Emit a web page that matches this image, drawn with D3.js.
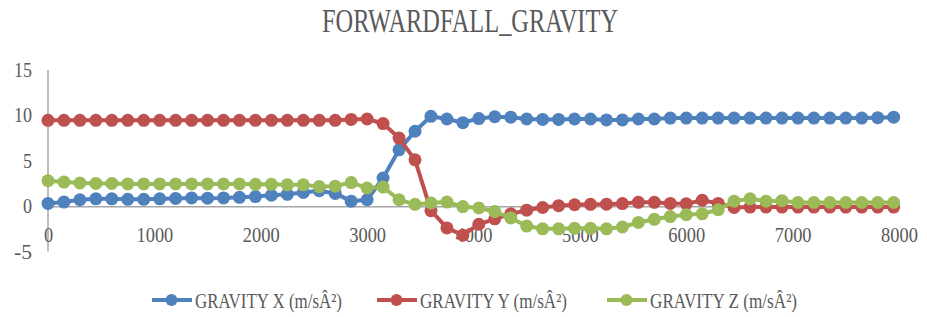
<!DOCTYPE html>
<html>
<head>
<meta charset="utf-8">
<script src="https://cdn.jsdelivr.net/npm/d3@7"></script>
<style>
  body { margin: 0; background: #fff; }
  text { font-family: "Liberation Serif", "DejaVu Serif", serif; fill: #595959; }
</style>
</head>
<body>
<script>
var title = "FORWARDFALL_GRAVITY";

var time_ms = [0, 150, 300, 450, 600, 750, 900, 1050, 1200, 1350,
	1500, 1650, 1800, 1950, 2100, 2250, 2400, 2550, 2700, 2850,
	3000, 3150, 3300, 3450, 3600, 3750, 3900, 4050, 4200, 4350,
	4500, 4650, 4800, 4950, 5100, 5250, 5400, 5550, 5700, 5850,
	6000, 6150, 6300, 6450, 6600, 6750, 6900, 7050, 7200, 7350,
	7500, 7650, 7800, 7950];

var gravity_x = [0.3, 0.45, 0.7, 0.8, 0.8, 0.75, 0.75, 0.8, 0.85, 0.9,
	0.88, 0.9, 0.97, 1.05, 1.2, 1.3, 1.5, 1.7, 1.4, 0.55,
	0.7, 3.1, 6.2, 8.25, 9.9, 9.6, 9.2, 9.65, 9.85, 9.8,
	9.6, 9.55, 9.55, 9.6, 9.6, 9.5, 9.5, 9.6, 9.6, 9.7,
	9.7, 9.7, 9.7, 9.7, 9.7, 9.7, 9.7, 9.7, 9.7, 9.7,
	9.7, 9.7, 9.75, 9.8];

var gravity_y = [9.45, 9.45, 9.45, 9.45, 9.45, 9.45, 9.45, 9.45, 9.45, 9.45,
	9.45, 9.45, 9.45, 9.45, 9.45, 9.45, 9.45, 9.45, 9.45, 9.55,
	9.6, 9.1, 7.5, 5.1, -0.5, -2.4, -3.2, -2.0, -1.4, -0.85,
	-0.45, -0.15, 0.05, 0.15, 0.2, 0.22, 0.28, 0.42, 0.42, 0.3,
	0.25, 0.65, 0.3, -0.15, -0.1, -0.1, -0.1, -0.1, -0.1, -0.1,
	-0.1, -0.1, -0.1, -0.1];

var gravity_z = [2.8, 2.65, 2.55, 2.5, 2.5, 2.45, 2.45, 2.45, 2.45, 2.45,
	2.45, 2.45, 2.45, 2.4, 2.4, 2.35, 2.35, 2.15, 2.2, 2.6,
	2.0, 2.1, 0.7, 0.2, 0.35, 0.45, -0.05, -0.2, -0.6, -1.3,
	-2.2, -2.5, -2.5, -2.45, -2.45, -2.5, -2.3, -1.8, -1.45, -1.15,
	-0.95, -0.85, -0.4, 0.55, 0.8, 0.55, 0.6, 0.4, 0.4, 0.4,
	0.4, 0.4, 0.4, 0.4];

var series_names = ["GRAVITY X (m/sÂ²)", "GRAVITY Y (m/sÂ²)", "GRAVITY Z (m/sÂ²)"];
var series_colors = ["#4f81bd", "#c0504d", "#9bbb59"];
var x_ticks = [0, 1000, 2000, 3000, 4000, 5000, 6000, 7000, 8000];
var y_ticks = [-5, 0, 5, 10, 15];

var all_series = [gravity_x, gravity_y, gravity_z];

var width = 927, height = 317;

var canvas = d3.select("body").append("svg")
	.attr("width", width)
	.attr("height", height);

var x = d3.scaleLinear().domain([0, 8000]).range([48, 899]);
var y = d3.scaleLinear().domain([-5, 15]).range([251.5, 70]);

// title
canvas.append("text")
	.attr("x", 470)
	.attr("y", 32)
	.attr("text-anchor", "middle")
	.attr("font-size", 34)
	.attr("textLength", 296)
	.attr("lengthAdjust", "spacingAndGlyphs")
	.text(title);

// y axis line and labels
canvas.append("line")
	.attr("x1", x(0)).attr("x2", x(0))
	.attr("y1", y(15)).attr("y2", y(-5))
	.attr("stroke", "#a6a6a6")
	.attr("stroke-width", 1.5);

canvas.selectAll(".ylab")
	.data(y_ticks)
	.enter().append("text")
	.attr("class", "ylab")
	.attr("x", 32)
	.attr("y", function(d){ return y(d) + 7; })
	.attr("text-anchor", "end")
	.attr("font-size", 21)
	.attr("textLength", function(d){ return String(d).length * 9; })
	.attr("lengthAdjust", "spacingAndGlyphs")
	.text(function(d){ return d; });

// x axis at zero
var xAxis = canvas.append("g")
	.attr("transform", "translate(0," + y(0) + ")")
	.call(d3.axisBottom(x).tickValues(x_ticks).tickSize(0).tickPadding(0).tickFormat(d3.format("d")));

xAxis.select(".domain")
	.attr("stroke", "#a6a6a6")
	.attr("stroke-width", 1.5);

xAxis.selectAll("text")
	.attr("y", 36)
	.attr("dy", null)
	.attr("font-size", 21)
	.attr("font-family", "Liberation Serif")
	.attr("fill", "#595959")
	.attr("textLength", function(d){ return String(d).length * 9.2; })
	.attr("lengthAdjust", "spacingAndGlyphs");

// series lines and markers
var line = d3.line()
	.x(function(d, i){ return x(time_ms[i]); })
	.y(function(d){ return y(d); });

all_series.forEach(function(values, s){
	var g = canvas.append("g");
	g.append("path")
		.datum(values)
		.attr("d", line)
		.attr("fill", "none")
		.attr("stroke", series_colors[s])
		.attr("stroke-width", 4)
		.attr("stroke-linejoin", "round");
	g.selectAll("circle")
		.data(values)
		.enter().append("circle")
		.attr("cx", function(d, i){ return x(time_ms[i]); })
		.attr("cy", function(d){ return y(d); })
		.attr("r", 6.5)
		.attr("fill", series_colors[s]);
});

// legend
var legend_x = [152, 377, 607];
var legend = canvas.selectAll(".legend")
	.data(series_names)
	.enter().append("g")
	.attr("class", "legend")
	.attr("transform", function(d, i){ return "translate(" + legend_x[i] + ",300)"; });

legend.append("line")
	.attr("x1", 0).attr("x2", 40)
	.attr("y1", 0).attr("y2", 0)
	.attr("stroke", function(d, i){ return series_colors[i]; })
	.attr("stroke-width", 4);

legend.append("circle")
	.attr("cx", 19.5)
	.attr("cy", 0)
	.attr("r", 6)
	.attr("fill", function(d, i){ return series_colors[i]; });

legend.append("text")
	.attr("x", 43)
	.attr("y", 8)
	.attr("font-size", 21)
	.attr("textLength", 147)
	.attr("lengthAdjust", "spacingAndGlyphs")
	.text(function(d){ return d; });
</script>
</body>
</html>
